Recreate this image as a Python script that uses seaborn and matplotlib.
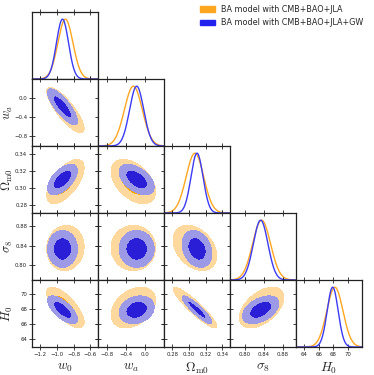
#!/usr/bin/env python3
"""
Треугольный график апостериорных распределений параметров модели BA
"""

import numpy as np
import matplotlib
matplotlib.use('Agg')
import matplotlib.pyplot as plt
import seaborn as sns
from matplotlib.patches import Patch

# Параметры и оси
labels = [r'$w_0$', r'$w_a$', r'$\Omega_{\rm m0}$', r'$\sigma_8$', r'$H_0$']
ranges = [(-1.30, -0.51), (-1.0, 0.40), (0.270, 0.349), (0.768, 0.908), (62.9, 71.9)]
ticks = [[-1.2, -1.0, -0.8, -0.6], [-0.8, -0.4, 0.0], [0.28, 0.30, 0.32, 0.34],
         [0.80, 0.84, 0.88], [64, 66, 68, 70]]
tick_labels = [['−1.2', '−1.0', '−0.8', '−0.6'], ['−0.8', '−0.4', '0.0'],
               ['0.28', '0.30', '0.32', '0.34'], ['0.80', '0.84', '0.88'],
               ['64', '66', '68', '70']]

# CMB+BAO+JLA
mean_jla = [-0.900, -0.250, 0.3070, 0.835, 68.2]
sigma_jla = [0.090, 0.190, 0.0105, 0.019, 1.10]
corr_jla = [[1.00, -0.82, 0.62, 0.05, -0.72],
            [-0.82, 1.00, -0.45, 0.00, 0.35],
            [0.62, -0.45, 1.00, -0.35, -0.92],
            [0.05, 0.00, -0.35, 1.00, 0.50],
            [-0.72, 0.35, -0.92, 0.50, 1.00]]

# CMB+BAO+JLA+GW
mean_gw = [-0.935, -0.180, 0.3095, 0.833, 67.9]
sigma_gw = [0.072, 0.150, 0.0072, 0.0155, 0.75]
corr_gw = [[1.00, -0.80, 0.58, 0.00, -0.68],
           [-0.80, 1.00, -0.50, 0.00, 0.20],
           [0.58, -0.50, 1.00, -0.25, -0.90],
           [0.00, 0.00, -0.25, 1.00, 0.45],
           [-0.68, 0.20, -0.90, 0.45, 1.00]]

legend_labels = ['BA model with CMB+BAO+JLA', 'BA model with CMB+BAO+JLA+GW']

# Цвета
line_colors = ['#FFA621', '#3B3BF5']
fill_colors = [('#FFA500', '#FFD89E'), ('#2A1FD6', '#9C9AE6')]

sns.set_style("ticks")
plt.rcParams['font.family'] = ['DejaVu Sans']
plt.rcParams['mathtext.fontset'] = 'cm'


def chi2_grid(xg, yg, mx, my, sx, sy, rho):
    """Хи-квадрат двумерного гауссиана на сетке"""
    dx = (xg - mx) / sx
    dy = (yg - my) / sy
    return (dx ** 2 - 2 * rho * dx * dy + dy ** 2) / (1 - rho ** 2)


def style_axis(ax):
    for sp in ax.spines.values():
        sp.set_linewidth(0.9)
        sp.set_color('#222222')
        sp.set_visible(True)
    ax.tick_params(direction='inout', length=4, width=0.6, labelsize=3.9,
                   top=True, right=True, pad=1.5, colors='#222222')


def main():
    n = len(labels)
    fig, axes = plt.subplots(n, n, figsize=(3.74, 3.75), dpi=100,
                             gridspec_kw=dict(hspace=0, wspace=0))
    fig.subplots_adjust(left=32 / 374, right=362 / 374,
                        top=1 - 12 / 375, bottom=1 - 347 / 375)

    series = [(mean_jla, sigma_jla, corr_jla), (mean_gw, sigma_gw, corr_gw)]

    for i in range(n):
        for j in range(n):
            ax = axes[i, j]
            if j > i:
                ax.remove()
                continue
            style_axis(ax)
            if i == j:
                # Одномерные распределения
                x = np.linspace(*ranges[i], 400)
                for k, (m, s, c) in enumerate(series):
                    pdf = np.exp(-0.5 * ((x - m[i]) / s[i]) ** 2)
                    sns.lineplot(x=x, y=pdf, ax=ax, color=line_colors[k], lw=1.0)
                ax.set_ylim(0, 1.12)
                ax.set_yticks([])
                ax.set_ylabel('')
                ax.tick_params(axis='y', left=False, right=False)
            else:
                # Двумерные контуры 68% и 95%
                xg, yg = np.meshgrid(np.linspace(*ranges[j], 300),
                                     np.linspace(*ranges[i], 300))
                for k, (m, s, c) in enumerate(series):
                    chi2 = chi2_grid(xg, yg, m[j], m[i], s[j], s[i], c[i][j])
                    ax.contourf(xg, yg, chi2, levels=[0, 2.30, 6.17],
                                colors=list(fill_colors[k]))
                ax.set_ylim(*ranges[i])
                ax.set_yticks(ticks[i])
                if j == 0:
                    ax.set_yticklabels(tick_labels[i])
                    ax.set_ylabel(labels[i], fontsize=9)
                    ax.yaxis.set_label_coords(-0.25, 0.5)
                else:
                    ax.set_yticklabels([])
            ax.set_xlim(*ranges[j])
            ax.set_xticks(ticks[j])
            if i == n - 1:
                ax.set_xticklabels(tick_labels[j])
                ax.set_xlabel(labels[j], fontsize=9.5, labelpad=3)
            else:
                ax.set_xticklabels([])
                ax.set_xlabel('')

    # Легенда
    handles = [Patch(color=line_colors[0]), Patch(color='#2222EE')]
    fig.legend(handles, legend_labels, loc='upper left',
               bbox_to_anchor=(200 / 374, 1 - 5 / 375), frameon=False,
               fontsize=5.8, handlelength=1.9, handleheight=0.65,
               handletextpad=0.7, labelspacing=0.55, borderpad=0, borderaxespad=0)

    plt.savefig('out.png', dpi=100)


if __name__ == "__main__":
    main()
